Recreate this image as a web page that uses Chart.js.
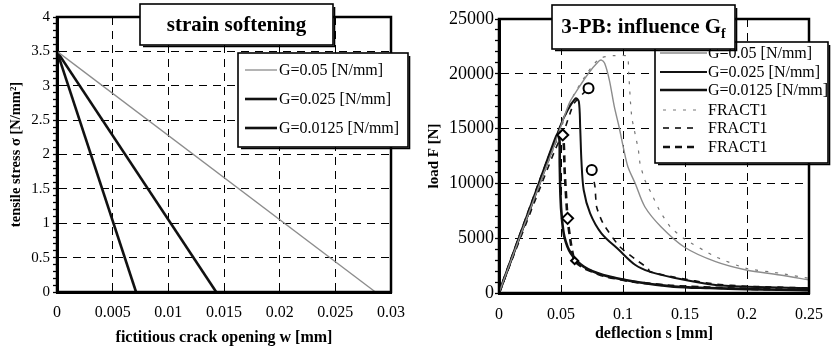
<!DOCTYPE html>
<html><head><meta charset="utf-8">
<script src="https://cdn.jsdelivr.net/npm/chart.js@4/dist/chart.umd.min.js"></script>
<style>
html,body{margin:0;padding:0;background:#fff;width:835px;height:349px;overflow:hidden}
#l{position:absolute;left:0;top:0;width:417px;height:349px}
#r{position:absolute;left:417px;top:0;width:418px;height:349px}
</style></head><body>
<div id="l"><canvas id="c1"></canvas></div>
<div id="r"><canvas id="c2"></canvas></div>
<script>
// ---------- left chart data: strain softening ----------
const softLabels = ['G=0.05 [N/mm]', 'G=0.025 [N/mm]', 'G=0.0125 [N/mm]'];
const w_G050 = [0, 0.0286];
const w_G025 = [0, 0.0143];
const w_G0125 = [0, 0.0071];
const sigma_soft = [3.5, 0];
const wTickLabels = ['0', '0.005', '0.01', '0.015', '0.02', '0.025', '0.03'];
const sigmaTickLabels = ['0', '0.5', '1', '1.5', '2', '2.5', '3', '3.5', '4'];

// ---------- right chart data: 3-PB influence Gf ----------
const pbLabels = ['G=0.05 [N/mm]', 'G=0.025 [N/mm]', 'G=0.0125 [N/mm]', 'FRACT1', 'FRACT1', 'FRACT1'];
const s_G050 = [0, 0.02, 0.045, 0.0566, 0.063, 0.0722, 0.080, 0.0826, 0.0852, 0.089, 0.093, 0.0968, 0.1007, 0.104, 0.1098, 0.1176, 0.1306, 0.15, 0.1747, 0.1994, 0.2266, 0.25];
const F_G050 = [0, 6100, 13600, 17300, 18500, 20050, 21100, 21250, 20960, 19430, 17000, 15170, 13050, 11500, 10010, 7870, 6050, 4150, 2860, 2100, 1640, 1190];
const s_G025 = [0, 0.02, 0.0436, 0.0489, 0.055, 0.0618, 0.0644, 0.0655, 0.0665, 0.0683, 0.0735, 0.0826, 0.0968, 0.11, 0.1215, 0.141, 0.1747, 0.2, 0.25];
const F_G025 = [0, 6100, 13300, 15100, 16600, 17760, 17460, 15000, 12000, 9400, 7270, 5450, 3920, 2550, 1950, 1400, 730, 580, 430];
const s_G0125 = [0, 0.03, 0.0455, 0.0475, 0.0488, 0.0490, 0.0496, 0.0506, 0.0527, 0.0579, 0.0683, 0.0839, 0.1098, 0.141, 0.17, 0.2, 0.25];
const F_G0125 = [0, 9300, 14110, 14500, 13900, 11800, 8790, 6960, 5140, 3620, 2400, 1640, 1030, 580, 450, 350, 250];
const s_F050 = [0, 0.045, 0.06, 0.072, 0.081, 0.092, 0.1033, 0.1046, 0.106, 0.1072, 0.1098, 0.1124, 0.1137, 0.1176, 0.1228, 0.1293, 0.138, 0.1488, 0.1747, 0.1994, 0.2266, 0.25];
const F_F050 = [0, 13500, 18000, 20200, 21400, 21650, 21600, 20050, 17460, 15940, 14500, 13050, 11830, 10310, 9100, 7570, 6050, 4990, 3310, 2250, 1800, 1340];
const s_F025 = [0, 0.045, 0.0527, 0.0605, 0.0722, 0.0735, 0.0748, 0.0774, 0.0787, 0.0839, 0.0968, 0.11, 0.1202, 0.1215, 0.141, 0.175, 0.2, 0.25];
const F_F025 = [0, 13000, 14870, 17300, 18680, null, 11220, 9700, 7870, 6360, 4300, 3070, 2250, 1950, 1450, 800, 620, 460];
const s_F0125 = [0, 0.03, 0.045, 0.0514, 0.053, 0.0553, 0.058, 0.061, 0.068, 0.085, 0.11, 0.14, 0.2, 0.25];
const F_F0125 = [0, 9300, 13700, 14420, 11000, 6810, 4500, 2950, 2300, 1550, 1000, 650, 380, 280];
const s_circles = [0.0722, 0.0748];
const F_circles = [18680, 11220];
const s_diamonds = [0.0514, 0.0553, 0.061];
const F_diamonds = [14420, 6810, 2950];
const sTickLabels = ['0', '0.05', '0.1', '0.15', '0.2', '0.25'];
const FTickLabels = ['0', '5000', '10000', '15000', '20000', '25000'];

const pts = (xs, ys) => xs.map((x, i) => ({x: x, y: ys[i]}));

const SERIF = '"Liberation Serif", "DejaVu Serif", serif';

function drawBox(ctx, b) {
  ctx.fillStyle = '#fff';
  ctx.fillRect(b[0], b[1], b[2] - b[0], b[3] - b[1]);
  ctx.strokeStyle = '#000';
  ctx.lineWidth = 1.6;
  ctx.setLineDash([]);
  ctx.strokeRect(b[0], b[1], b[2] - b[0], b[3] - b[1]);
  ctx.beginPath();
  ctx.moveTo(b[0] + 3, b[3] + 1.5);
  ctx.lineTo(b[2] + 1.5, b[3] + 1.5);
  ctx.lineTo(b[2] + 1.5, b[1] + 3);
  ctx.stroke();
}

const decor = {
  id: 'decor',
  afterDraw(chart, args, o) {
    const ctx = chart.ctx, a = chart.chartArea;
    ctx.save();
    ctx.setLineDash([]);
    ctx.strokeStyle = '#000';
    ctx.lineWidth = 2.5;
    ctx.strokeRect(a.left, a.top, a.right - a.left, a.bottom - a.top);
    // legend
    drawBox(ctx, o.legendBox);
    ctx.font = '16px ' + SERIF;
    ctx.textBaseline = 'middle';
    ctx.textAlign = 'left';
    let r = 0;
    chart.data.datasets.forEach(ds => {
      if (!ds.label) return;
      const y = o.rowY[r];
      ctx.save();
      ctx.strokeStyle = ds.borderColor;
      ctx.lineWidth = ds.borderWidth;
      ctx.setLineDash(ds.borderDash || []);
      ctx.beginPath();
      ctx.moveTo(o.sampleX0[r], y);
      ctx.lineTo(o.sampleX1[r], y);
      ctx.stroke();
      ctx.restore();
      ctx.fillStyle = '#000';
      ctx.fillText(ds.label, o.textX, y + 1);
      r++;
    });
    // title
    drawBox(ctx, o.titleBox);
    const tb = o.titleBox;
    ctx.font = 'bold 21px ' + SERIF;
    const w1 = ctx.measureText(o.title).width;
    let w2 = 0;
    if (o.titleSub) { ctx.font = 'bold 14px ' + SERIF; w2 = ctx.measureText(o.titleSub).width; }
    const x0 = (tb[0] + tb[2]) / 2 - (w1 + w2) / 2;
    const yc = (tb[1] + tb[3]) / 2 + 1;
    ctx.fillStyle = '#000';
    ctx.textAlign = 'left';
    ctx.font = 'bold 21px ' + SERIF;
    ctx.fillText(o.title, x0, yc);
    if (o.titleSub) { ctx.font = 'bold 14px ' + SERIF; ctx.fillText(o.titleSub, x0 + w1, yc + 6); }
    ctx.restore();
  }
};

const isMult = (v, step) => Math.abs(v / step - Math.round(v / step)) < 1e-6;
const gridDash = [8, 6];

function yScale(min, max, minor, major, labels, width, titleText, titleSize, tickPad, tickSize) {
  return {
    type: 'linear', min: min, max: max,
    afterFit: s => { s.width = width; },
    ticks: {
      stepSize: minor, autoSkip: false, padding: tickPad, color: '#000',
      font: {family: SERIF, size: tickSize},
      callback: v => isMult(v, major) ? labels[Math.round(v / major)] : ''
    },
    grid: {
      color: c => (c.tick && isMult(c.tick.value, major)) ? '#000' : 'rgba(0,0,0,0)',
      lineWidth: 1, tickLength: 4, tickColor: '#000', tickWidth: 1.3, tickBorderDash: []
    },
    border: {display: true, color: '#000', width: 3, dash: gridDash},
    title: {display: true, text: titleText, color: '#000', padding: 8,
      font: {family: SERIF, size: titleSize, weight: 'bold'}}
  };
}
function xScale(min, max, step, labels, height, titleText, tickPad, titleBottom) {
  return {
    type: 'linear', min: min, max: max,
    afterFit: s => { s.height = height; },
    ticks: {
      stepSize: step, autoSkip: false, padding: tickPad, color: '#000', maxRotation: 0,
      font: {family: SERIF, size: 16},
      callback: (v, i) => labels[i]
    },
    grid: {color: '#000', lineWidth: 1, drawTicks: false},
    border: {display: true, color: '#000', width: 3, dash: gridDash},
    title: {display: true, text: titleText, color: '#000', padding: {top: 0, bottom: titleBottom},
      font: {family: SERIF, size: 16, weight: 'bold'}}
  };
}

const commonOpts = {
  responsive: true, maintainAspectRatio: false, animation: false, devicePixelRatio: 1,
  plugins: {legend: {display: false}, tooltip: {enabled: false}},
  elements: {point: {radius: 0}, line: {tension: 0}}
};

new Chart(document.getElementById('c1'), {
  type: 'line',
  data: {
    datasets: [
      {label: softLabels[0], data: pts(w_G050, sigma_soft), borderColor: '#8c8c8c', borderWidth: 1.3},
      {label: softLabels[1], data: pts(w_G025, sigma_soft), borderColor: '#111', borderWidth: 2.6},
      {label: softLabels[2], data: pts(w_G0125, sigma_soft), borderColor: '#111', borderWidth: 2.6}
    ]
  },
  options: Object.assign({}, commonOpts, {
    layout: {padding: {left: 0, top: 17, right: 26, bottom: 0}},
    scales: {
      x: xScale(0, 0.03, 0.005, wTickLabels, 57, 'fictitious crack opening w [mm]', 11, 1.5),
      y: yScale(0, 4, 0.1, 0.5, sigmaTickLabels, 57, 'tensile stress σ [N/mm²]', 14.5, 3, 15)
    },
    plugins: Object.assign({}, commonOpts.plugins, {
      decor: {
        legendBox: [238, 53, 408, 147], rowY: [70, 99, 128],
        sampleX0: [245, 245, 245], sampleX1: [277, 277, 277], textX: 279,
        titleBox: [140, 4, 333, 45], title: 'strain softening', titleSub: ''
      }
    })
  }),
  plugins: [decor]
});

new Chart(document.getElementById('c2'), {
  type: 'line',
  data: {
    datasets: [
      {label: '', data: pts(s_circles, F_circles), showLine: false, pointStyle: 'circle', pointRadius: 5, pointBackgroundColor: '#fff', pointBorderColor: '#000', pointBorderWidth: 2},
      {label: '', data: pts(s_diamonds, F_diamonds), showLine: false, pointStyle: 'rectRot', pointRadius: [5.5, 5.5, 3.5], pointBackgroundColor: '#fff', pointBorderColor: '#000', pointBorderWidth: 2},
      {label: pbLabels[0], data: pts(s_G050, F_G050), borderColor: '#8c8c8c', borderWidth: 1.4, tension: 0.3},
      {label: pbLabels[1], data: pts(s_G025, F_G025), borderColor: '#111', borderWidth: 2, tension: 0.3},
      {label: pbLabels[2], data: pts(s_G0125, F_G0125), borderColor: '#111', borderWidth: 2.6, tension: 0.3},
      {label: pbLabels[3], data: pts(s_F050, F_F050), borderColor: '#777', borderWidth: 1.2, borderDash: [3, 7], tension: 0.2},
      {label: pbLabels[4], data: pts(s_F025, F_F025), borderColor: '#111', borderWidth: 1.6, borderDash: [6, 6], tension: 0.2, spanGaps: false},
      {label: pbLabels[5], data: pts(s_F0125, F_F0125), borderColor: '#111', borderWidth: 2.6, borderDash: [7, 5], tension: 0.2}
    ]
  },
  options: Object.assign({}, commonOpts, {
    layout: {padding: {left: 0, top: 19, right: 15, bottom: 0}},
    scales: {
      x: xScale(0, 0.25, 0.05, sTickLabels, 56, 'deflection s [mm]', 12, 6),
      y: yScale(0, 25000, 1000, 5000, FTickLabels, 82, 'load F [N]', 15, 1, 18)
    },
    plugins: Object.assign({}, commonOpts.plugins, {
      decor: {
        legendBox: [238, 42, 411, 163], rowY: [53, 72, 90, 110, 128, 147],
        sampleX0: [243, 243, 243, 246, 246, 246], sampleX1: [290, 290, 290, 280, 280, 280], textX: 291,
        titleBox: [135, 5, 318, 49], title: '3-PB: influence G', titleSub: 'f'
      }
    })
  }),
  plugins: [decor]
});
</script>
</body></html>
